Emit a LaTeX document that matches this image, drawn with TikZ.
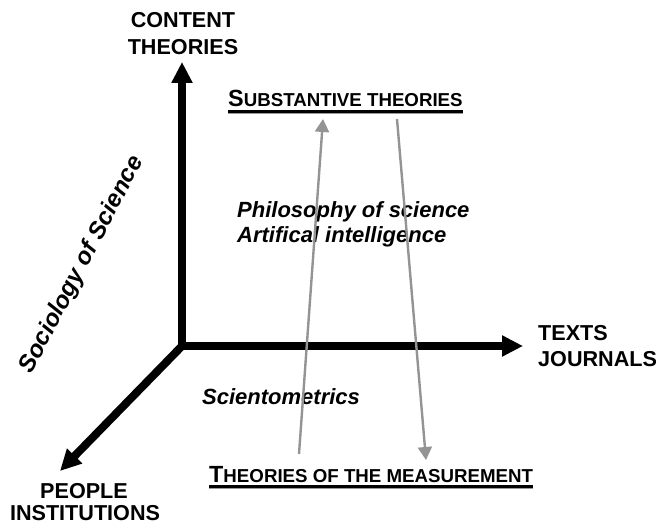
\documentclass[tikz,border=0pt]{standalone}
\usepackage{fontspec}
\setmainfont{Liberation Sans}
\usetikzlibrary{arrows.meta}
\newcommand{\scbig}[1]{{\fontsize{23.4}{25}\selectfont #1}}
\newcommand{\scsmall}[1]{{\fontsize{18.7}{20}\selectfont #1}}
\begin{document}
\begin{tikzpicture}[x=1pt,y=-1pt,
  axis/.style={line width=8pt,-{Triangle[length=21pt,width=20pt]}},
  grayarrow/.style={draw=black!42,line width=2.4pt,-{Triangle[length=13pt,width=14pt]}},
  axlabel/.style={font=\fontsize{21.6}{25}\selectfont\bfseries,inner sep=0pt},
  itlabel/.style={font=\fontsize{22}{26}\selectfont\bfseries\itshape,inner sep=0pt},
  sclabel/.style={font=\bfseries,inner sep=0pt},
  ulineblack/.style={line width=3pt},
  ulinegray/.style={line width=1.2pt,draw=black!40}
]
\useasboundingbox (0,0) rectangle (659,524);

% axes
\coordinate (O) at (182,346);
\coordinate (ytip) at (182,62);
\coordinate (xtip) at (523,346);
\coordinate (ztip) at (60,471);
\draw[axis] (O) -- (ytip);
\draw[axis] (O) -- (xtip);
\draw[axis] (O) -- (ztip);

% axis labels
\node[axlabel,anchor=base] (content) at (183,28) {CONTENT};
\node[axlabel,anchor=base] (theories) at (183,55) {THEORIES};
\node[axlabel,anchor=base west] (texts) at (538,340.5) {TEXTS};
\node[axlabel,anchor=base west] (journals) at (538,366.5) {JOURNALS};
\node[axlabel,anchor=base] (people) at (84,498) {PEOPLE};
\node[axlabel,anchor=base] (inst) at (85,520.5) {INSTITUTIONS};

% rotated label
\node[font=\fontsize{24}{28}\selectfont\bfseries\itshape,inner sep=0pt,rotate=62.5] (socio) at (82,265) {Sociology of Science};

% italic labels
\node[itlabel,anchor=base west] (phil) at (237,217) {Philosophy of science};
\node[itlabel,anchor=base west] (ai) at (237,242) {Artifical intelligence};
\node[itlabel,anchor=base west] (scient) at (202,404) {Scientometrics};

% small caps titles
\node[sclabel,anchor=base west] (subst) at (228,107) {\scbig{S}\scsmall{UBSTANTIVE THEORIES}};
\node[sclabel,anchor=base west] (meas) at (209,482) {\scbig{T}\scsmall{HEORIES OF THE MEASUREMENT}};
\draw[ulinegray] ([yshift=-6.8pt]subst.base west) -- ([yshift=-6.8pt]subst.base east);
\draw[ulineblack] ([yshift=-4.3pt]subst.base west) -- ([yshift=-4.3pt]subst.base east);
\draw[ulinegray] ([yshift=-6.8pt]meas.base west) -- ([yshift=-6.8pt]meas.base east);
\draw[ulineblack] ([yshift=-4.3pt]meas.base west) -- ([yshift=-4.3pt]meas.base east);

% gray arrows
\coordinate (upstart) at (299,454);
\coordinate (uptip) at (323,119);
\coordinate (downstart) at (397,119);
\coordinate (downtip) at (426,460);
\draw[grayarrow] (upstart) -- (uptip);
\draw[grayarrow] (downstart) -- (downtip);
\end{tikzpicture}
\end{document}
